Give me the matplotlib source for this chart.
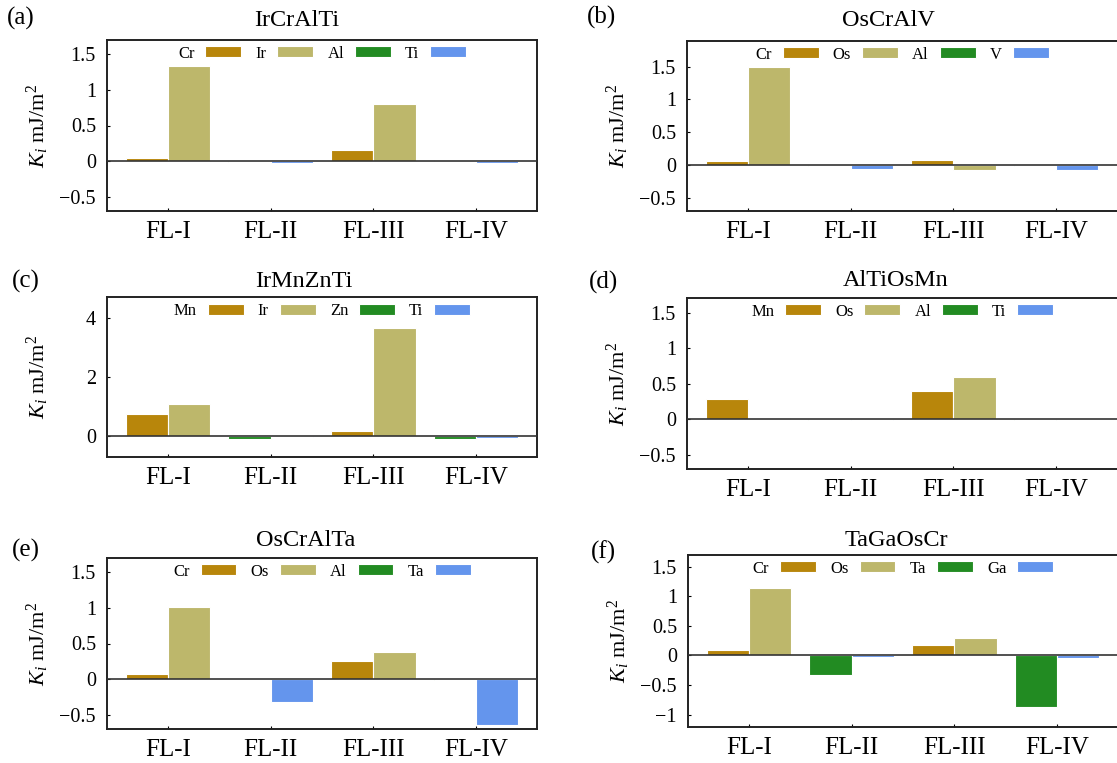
import matplotlib
matplotlib.use("Agg")
import matplotlib.pyplot as plt
from matplotlib.patches import Patch
from matplotlib.ticker import FixedLocator, FuncFormatter

plt.rcParams['font.family'] = ['Liberation Serif', 'DejaVu Serif']
plt.rcParams['mathtext.fontset'] = 'custom'
plt.rcParams['mathtext.rm'] = 'Liberation Serif'
plt.rcParams['mathtext.it'] = 'Liberation Serif:italic'
plt.rcParams['axes.unicode_minus'] = True

# ---------------- data ----------------
layers = ["FL-I", "FL-II", "FL-III", "FL-IV"]
series_colors = ["#B8860B", "#BDB76B", "#228B22", "#6495ED"]

# values per layer: [left bar, right bar]
# FL-I / FL-III -> species 1 & 2 ; FL-II / FL-IV -> species 3 & 4
a_title = "IrCrAlTi"
a_species = ["Cr", "Ir", "Al", "Ti"]
a_values = [[0.04, 1.34], [-0.01, -0.03], [0.15, 0.80], [0.01, -0.03]]

b_title = "OsCrAlV"
b_species = ["Cr", "Os", "Al", "V"]
b_values = [[0.056, 1.50], [-0.01, -0.066], [0.076, -0.076], [-0.01, -0.076]]

c_title = "IrMnZnTi"
c_species = ["Mn", "Ir", "Zn", "Ti"]
c_values = [[0.74, 1.09], [-0.11, -0.04], [0.17, 3.65], [-0.11, -0.08]]

d_title = "AlTiOsMn"
d_species = ["Mn", "Os", "Al", "Ti"]
d_values = [[0.285, 0.015], [-0.005, -0.012], [0.40, 0.59], [-0.005, 0.005]]

e_title = "OsCrAlTa"
e_species = ["Cr", "Os", "Al", "Ta"]
e_values = [[0.065, 1.01], [-0.005, -0.32], [0.25, 0.38], [-0.01, -0.65]]

f_title = "TaGaOsCr"
f_species = ["Cr", "Os", "Ta", "Ga"]
f_values = [[0.09, 1.15], [-0.33, -0.02], [0.18, 0.30], [-0.88, -0.05]]

panel_labels = ["(a)", "(b)", "(c)", "(d)", "(e)", "(f)"]
ylims = [(-0.7, 1.7), (-0.7, 1.89), (-0.71, 4.7), (-0.7, 1.71), (-0.7, 1.7), (-1.21, 1.7)]
yticks = [[-0.5, 0, 0.5, 1, 1.5], [-0.5, 0, 0.5, 1, 1.5], [0, 2, 4],
          [-0.5, 0, 0.5, 1, 1.5], [-0.5, 0, 0.5, 1, 1.5], [-1, -0.5, 0, 0.5, 1, 1.5]]

# ---------------- layout (pixels) ----------------
W, H = 1117, 763
boxes = [(107, 537, 40, 211), (687, 1117, 41, 211),
         (107, 537, 297, 457), (687, 1117, 298, 469),
         (107, 537, 558, 729), (688, 1118, 555, 727)]
title_pos = [(297, 20.5), (888, 20), (304, 281), (896, 280), (306, 540), (896, 540)]
label_pos = [(21, 18), (601, 17), (26, 281), (603, 282), (26, 550), (603, 552)]

fig = plt.figure(figsize=(W / 100, H / 100), dpi=100)

panels = [(a_title, a_species, a_values), (b_title, b_species, b_values),
          (c_title, c_species, c_values), (d_title, d_species, d_values),
          (e_title, e_species, e_values), (f_title, f_species, f_values)]

bw = 0.41
fmt = FuncFormatter(lambda v, p: f"{v:g}".replace("-", "\u2212"))

for i, (title, species, values) in enumerate(panels):
    l, r, t, b = boxes[i]
    ax = fig.add_axes([l / W, 1 - b / H, (r - l) / W, (b - t) / H])
    for j, (left, right) in enumerate(values):
        si = 0 if j % 2 == 0 else 2
        ax.bar(j - bw / 2, left, width=bw, color=series_colors[si],
               edgecolor="white", linewidth=0.8, zorder=2)
        ax.bar(j + bw / 2, right, width=bw, color=series_colors[si + 1],
               edgecolor="white", linewidth=0.8, zorder=2)
    ax.axhline(0, color="#333333", lw=1.2, zorder=3)
    ax.set_xlim(-0.59, 3.59)
    ax.set_ylim(*ylims[i])
    ax.set_xticks(range(len(layers)))
    ax.set_xticklabels(layers, fontsize=18)
    ax.yaxis.set_major_locator(FixedLocator(yticks[i]))
    ax.yaxis.set_major_formatter(fmt)
    ax.tick_params(axis="y", direction="in", length=2.5, width=0.8, labelsize=14.5, pad=8)
    ax.tick_params(axis="x", direction="in", length=2.5, width=0.8, pad=7)
    for s in ax.spines.values():
        s.set_linewidth(1.4)
        s.set_color("#222222")
    if i % 2 == 1:
        ax.spines["right"].set_visible(False)
    ax.set_ylabel(r"$K_i$ mJ/m$^2$", fontsize=16)
    ax.yaxis.set_label_coords(-56 / (r - l), 0.5)

    handles = [Patch(facecolor=c, edgecolor="white", linewidth=0.8) for c in series_colors]
    ax.legend(handles, species, loc="upper center", bbox_to_anchor=(0.5, 1.055), ncol=4,
              frameon=False, markerfirst=False, fontsize=12, handlelength=2.15,
              handleheight=0.65, handletextpad=0.66, columnspacing=0.85)

    fig.text(title_pos[i][0] / W, 1 - title_pos[i][1] / H, title, fontsize=17.5,
             ha="center", va="center")
    fig.text(label_pos[i][0] / W, 1 - label_pos[i][1] / H, panel_labels[i], fontsize=18,
             ha="center", va="center")

fig.savefig("out.png", dpi=100)
